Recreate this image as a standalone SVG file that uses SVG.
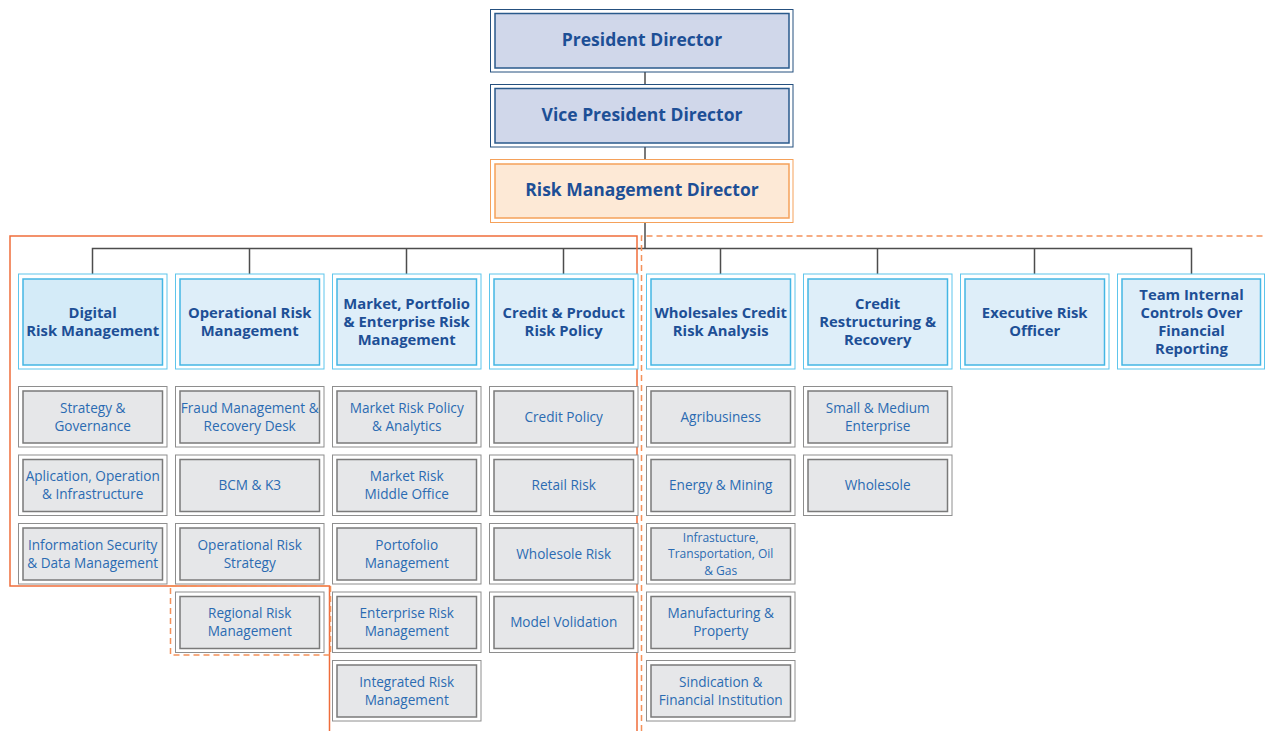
<svg xmlns="http://www.w3.org/2000/svg" width="1265" height="731" viewBox="0 0 1265 731">
<style>
.bg{fill:#ffffff}
.o-top{fill:#ffffff;stroke:#25507f;stroke-width:1}
.i-top{fill:#d0d7ea;stroke:#2a5a8c;stroke-width:1.5}
.o-rm{fill:#ffffff;stroke:#f5a15a;stroke-width:1}
.i-rm{fill:#fde9d6;stroke:#f5a15a;stroke-width:1.5}
.o-hd{fill:#ffffff;stroke:#5ec5ec;stroke-width:1}
.i-hd{fill:#deeef9;stroke:#44b6e4;stroke-width:1.5}
.i-hd1{fill:#d4ebf8;stroke:#44b6e4;stroke-width:1.5}
.o-sb{fill:#ffffff;stroke:#8e8e8e;stroke-width:1}
.i-sb{fill:#e6e7e9;stroke:#7a7a7a;stroke-width:1.5}
.t-top{font-family:"Open Sans","Noto Sans",sans-serif;font-weight:bold;font-size:17.5px;fill:#1d4f96;text-anchor:middle}
.t-hd{font-family:"Open Sans","Noto Sans",sans-serif;font-weight:bold;font-size:14.8px;fill:#1d4f96;text-anchor:middle}
.t-sb{font-family:"Open Sans","Noto Sans",sans-serif;font-size:13.6px;fill:#2b6bb2;text-anchor:middle}
.t-sm{font-family:"Open Sans","Noto Sans",sans-serif;font-size:12px;fill:#2b6bb2;text-anchor:middle}
.conn{fill:none;stroke:#4d4d4d;stroke-width:1.5}
.org{fill:none;stroke:#ef6d3b;stroke-width:1.5}
.orgd{fill:none;stroke:#f4915a;stroke-width:1.5;stroke-dasharray:6 4}
</style>
<rect class="bg" x="0" y="0" width="1265" height="731"/>

<g id="connectors">
<path class="conn" d="M645,72 V84 M645,147 V159 M645,223 V248.5"/>
<path class="conn" d="M92.5,274 V248.5 H1191.5 V274 M249.5,248.5 V274 M406.5,248.5 V274 M563.5,248.5 V274 M720.5,248.5 V274 M877.5,248.5 V274 M1034.5,248.5 V274"/>
</g>

<g id="boundaries">
<path class="org" d="M329.5,731 V586 H10 V236 H637 V731"/>
<path class="orgd" d="M641.5,731 V236 H1265"/>
<rect class="orgd" x="170.5" y="586" width="160" height="69"/>
</g>

<g id="president">
<rect class="o-top" x="490.5" y="9.5" width="302.5" height="62.5"/>
<rect class="i-top" x="495" y="13.5" width="294" height="54.5"/>
<text class="t-top" x="642" y="46">President Director</text>
</g>
<g id="vice-president">
<rect class="o-top" x="490.5" y="84.5" width="302.5" height="62.5"/>
<rect class="i-top" x="495" y="88.5" width="294" height="54.5"/>
<text class="t-top" x="642" y="121">Vice President Director</text>
</g>
<g id="risk-director">
<rect class="o-rm" x="490.5" y="159.5" width="302.5" height="63"/>
<rect class="i-rm" x="495" y="164" width="294" height="54"/>
<text class="t-top" x="642" y="196">Risk Management Director</text>
</g>

<!-- headers -->
<g id="h-digital">
<rect class="o-hd" x="18.5" y="274" width="148.5" height="95"/>
<rect class="i-hd1" x="23" y="279" width="139.5" height="86"/>
<text class="t-hd" x="92.7" y="318">Digital</text>
<text class="t-hd" x="92.7" y="336">Risk Management</text>
</g>
<g id="h-operational">
<rect class="o-hd" x="175.5" y="274" width="148.5" height="95"/>
<rect class="i-hd" x="180" y="279" width="139.5" height="86"/>
<text class="t-hd" x="249.7" y="318">Operational Risk</text>
<text class="t-hd" x="249.7" y="336">Management</text>
</g>
<g id="h-market">
<rect class="o-hd" x="332.5" y="274" width="148.5" height="95"/>
<rect class="i-hd" x="337" y="279" width="139.5" height="86"/>
<text class="t-hd" x="406.7" y="309">Market, Portfolio</text>
<text class="t-hd" x="406.7" y="327">&amp; Enterprise Risk</text>
<text class="t-hd" x="406.7" y="345">Management</text>
</g>
<g id="h-credit-product">
<rect class="o-hd" x="489.5" y="274" width="148.5" height="95"/>
<rect class="i-hd" x="494" y="279" width="139.5" height="86"/>
<text class="t-hd" x="563.7" y="318">Credit &amp; Product</text>
<text class="t-hd" x="563.7" y="336">Risk Policy</text>
</g>
<g id="h-wholesales">
<rect class="o-hd" x="646.5" y="274" width="148.5" height="95"/>
<rect class="i-hd" x="651" y="279" width="139.5" height="86"/>
<text class="t-hd" x="720.7" y="318">Wholesales Credit</text>
<text class="t-hd" x="720.7" y="336">Risk Analysis</text>
</g>
<g id="h-restructuring">
<rect class="o-hd" x="803.5" y="274" width="148.5" height="95"/>
<rect class="i-hd" x="808" y="279" width="139.5" height="86"/>
<text class="t-hd" x="877.7" y="309">Credit</text>
<text class="t-hd" x="877.7" y="327">Restructuring &amp;</text>
<text class="t-hd" x="877.7" y="345">Recovery</text>
</g>
<g id="h-executive">
<rect class="o-hd" x="960.5" y="274" width="148.5" height="95"/>
<rect class="i-hd" x="965" y="279" width="139.5" height="86"/>
<text class="t-hd" x="1034.7" y="318">Executive Risk</text>
<text class="t-hd" x="1034.7" y="336">Officer</text>
</g>
<g id="h-team">
<rect class="o-hd" x="1117.5" y="274" width="147" height="95"/>
<rect class="i-hd" x="1122" y="279" width="138.5" height="86"/>
<text class="t-hd" x="1191.5" y="300">Team Internal</text>
<text class="t-hd" x="1191.5" y="318">Controls Over</text>
<text class="t-hd" x="1191.5" y="336">Financial</text>
<text class="t-hd" x="1191.5" y="354">Reporting</text>
</g>

<!-- column 1 -->
<g id="s-strategy">
<rect class="o-sb" x="18.5" y="386.5" width="148.5" height="60.5"/>
<rect class="i-sb" x="23" y="391" width="139.5" height="52"/>
<text class="t-sb" x="92.7" y="412.5">Strategy &amp;</text>
<text class="t-sb" x="92.7" y="430.5">Governance</text>
</g>
<g id="s-aplication">
<rect class="o-sb" x="18.5" y="455" width="148.5" height="60.5"/>
<rect class="i-sb" x="23" y="459.5" width="139.5" height="52"/>
<text class="t-sb" x="92.7" y="481">Aplication, Operation</text>
<text class="t-sb" x="92.7" y="499">&amp; Infrastructure</text>
</g>
<g id="s-infosec">
<rect class="o-sb" x="18.5" y="523.5" width="148.5" height="60.5"/>
<rect class="i-sb" x="23" y="528" width="139.5" height="52"/>
<text class="t-sb" x="92.7" y="549.5">Information Security</text>
<text class="t-sb" x="92.7" y="567.5">&amp; Data Management</text>
</g>

<!-- column 2 -->
<g id="s-fraud">
<rect class="o-sb" x="175.5" y="386.5" width="148.5" height="60.5"/>
<rect class="i-sb" x="180" y="391" width="139.5" height="52"/>
<text class="t-sb" x="249.7" y="412.5">Fraud Management &amp;</text>
<text class="t-sb" x="249.7" y="430.5">Recovery Desk</text>
</g>
<g id="s-bcm">
<rect class="o-sb" x="175.5" y="455" width="148.5" height="60.5"/>
<rect class="i-sb" x="180" y="459.5" width="139.5" height="52"/>
<text class="t-sb" x="249.7" y="490">BCM &amp; K3</text>
</g>
<g id="s-oprisk">
<rect class="o-sb" x="175.5" y="523.5" width="148.5" height="60.5"/>
<rect class="i-sb" x="180" y="528" width="139.5" height="52"/>
<text class="t-sb" x="249.7" y="549.5">Operational Risk</text>
<text class="t-sb" x="249.7" y="567.5">Strategy</text>
</g>
<g id="s-regional">
<rect class="o-sb" x="175.5" y="592" width="148.5" height="60.5"/>
<rect class="i-sb" x="180" y="596.5" width="139.5" height="52"/>
<text class="t-sb" x="249.7" y="618">Regional Risk</text>
<text class="t-sb" x="249.7" y="636">Management</text>
</g>

<!-- column 3 -->
<g id="s-mrpolicy">
<rect class="o-sb" x="332.5" y="386.5" width="148.5" height="60.5"/>
<rect class="i-sb" x="337" y="391" width="139.5" height="52"/>
<text class="t-sb" x="406.7" y="412.5">Market Risk Policy</text>
<text class="t-sb" x="406.7" y="430.5">&amp; Analytics</text>
</g>
<g id="s-mrmiddle">
<rect class="o-sb" x="332.5" y="455" width="148.5" height="60.5"/>
<rect class="i-sb" x="337" y="459.5" width="139.5" height="52"/>
<text class="t-sb" x="406.7" y="481">Market Risk</text>
<text class="t-sb" x="406.7" y="499">Middle Office</text>
</g>
<g id="s-portofolio">
<rect class="o-sb" x="332.5" y="523.5" width="148.5" height="60.5"/>
<rect class="i-sb" x="337" y="528" width="139.5" height="52"/>
<text class="t-sb" x="406.7" y="549.5">Portofolio</text>
<text class="t-sb" x="406.7" y="567.5">Management</text>
</g>
<g id="s-enterprise">
<rect class="o-sb" x="332.5" y="592" width="148.5" height="60.5"/>
<rect class="i-sb" x="337" y="596.5" width="139.5" height="52"/>
<text class="t-sb" x="406.7" y="618">Enterprise Risk</text>
<text class="t-sb" x="406.7" y="636">Management</text>
</g>
<g id="s-integrated">
<rect class="o-sb" x="332.5" y="660.5" width="148.5" height="60.5"/>
<rect class="i-sb" x="337" y="665" width="139.5" height="52"/>
<text class="t-sb" x="406.7" y="686.5">Integrated Risk</text>
<text class="t-sb" x="406.7" y="704.5">Management</text>
</g>

<!-- column 4 -->
<g id="s-creditpolicy">
<rect class="o-sb" x="489.5" y="386.5" width="148.5" height="60.5"/>
<rect class="i-sb" x="494" y="391" width="139.5" height="52"/>
<text class="t-sb" x="563.7" y="421.5">Credit Policy</text>
</g>
<g id="s-retail">
<rect class="o-sb" x="489.5" y="455" width="148.5" height="60.5"/>
<rect class="i-sb" x="494" y="459.5" width="139.5" height="52"/>
<text class="t-sb" x="563.7" y="490">Retail Risk</text>
</g>
<g id="s-wholesolerisk">
<rect class="o-sb" x="489.5" y="523.5" width="148.5" height="60.5"/>
<rect class="i-sb" x="494" y="528" width="139.5" height="52"/>
<text class="t-sb" x="563.7" y="558.5">Wholesole Risk</text>
</g>
<g id="s-model">
<rect class="o-sb" x="489.5" y="592" width="148.5" height="60.5"/>
<rect class="i-sb" x="494" y="596.5" width="139.5" height="52"/>
<text class="t-sb" x="563.7" y="627">Model Volidation</text>
</g>

<!-- column 5 -->
<g id="s-agri">
<rect class="o-sb" x="646.5" y="386.5" width="148.5" height="60.5"/>
<rect class="i-sb" x="651" y="391" width="139.5" height="52"/>
<text class="t-sb" x="720.7" y="421.5">Agribusiness</text>
</g>
<g id="s-energy">
<rect class="o-sb" x="646.5" y="455" width="148.5" height="60.5"/>
<rect class="i-sb" x="651" y="459.5" width="139.5" height="52"/>
<text class="t-sb" x="720.7" y="490">Energy &amp; Mining</text>
</g>
<g id="s-infra">
<rect class="o-sb" x="646.5" y="523.5" width="148.5" height="60.5"/>
<rect class="i-sb" x="651" y="528" width="139.5" height="52"/>
<text class="t-sm" x="720.7" y="541.8">Infrastucture,</text>
<text class="t-sm" x="720.7" y="558.2">Transportation, Oil</text>
<text class="t-sm" x="720.7" y="574.6">&amp; Gas</text>
</g>
<g id="s-manufacturing">
<rect class="o-sb" x="646.5" y="592" width="148.5" height="60.5"/>
<rect class="i-sb" x="651" y="596.5" width="139.5" height="52"/>
<text class="t-sb" x="720.7" y="618">Manufacturing &amp;</text>
<text class="t-sb" x="720.7" y="636">Property</text>
</g>
<g id="s-sindication">
<rect class="o-sb" x="646.5" y="660.5" width="148.5" height="60.5"/>
<rect class="i-sb" x="651" y="665" width="139.5" height="52"/>
<text class="t-sb" x="720.7" y="686.5">Sindication &amp;</text>
<text class="t-sb" x="720.7" y="704.5">Financial Institution</text>
</g>

<!-- column 6 -->
<g id="s-sme">
<rect class="o-sb" x="803.5" y="386.5" width="148.5" height="60.5"/>
<rect class="i-sb" x="808" y="391" width="139.5" height="52"/>
<text class="t-sb" x="877.7" y="412.5">Small &amp; Medium</text>
<text class="t-sb" x="877.7" y="430.5">Enterprise</text>
</g>
<g id="s-wholesole">
<rect class="o-sb" x="803.5" y="455" width="148.5" height="60.5"/>
<rect class="i-sb" x="808" y="459.5" width="139.5" height="52"/>
<text class="t-sb" x="877.7" y="490">Wholesole</text>
</g>
</svg>
